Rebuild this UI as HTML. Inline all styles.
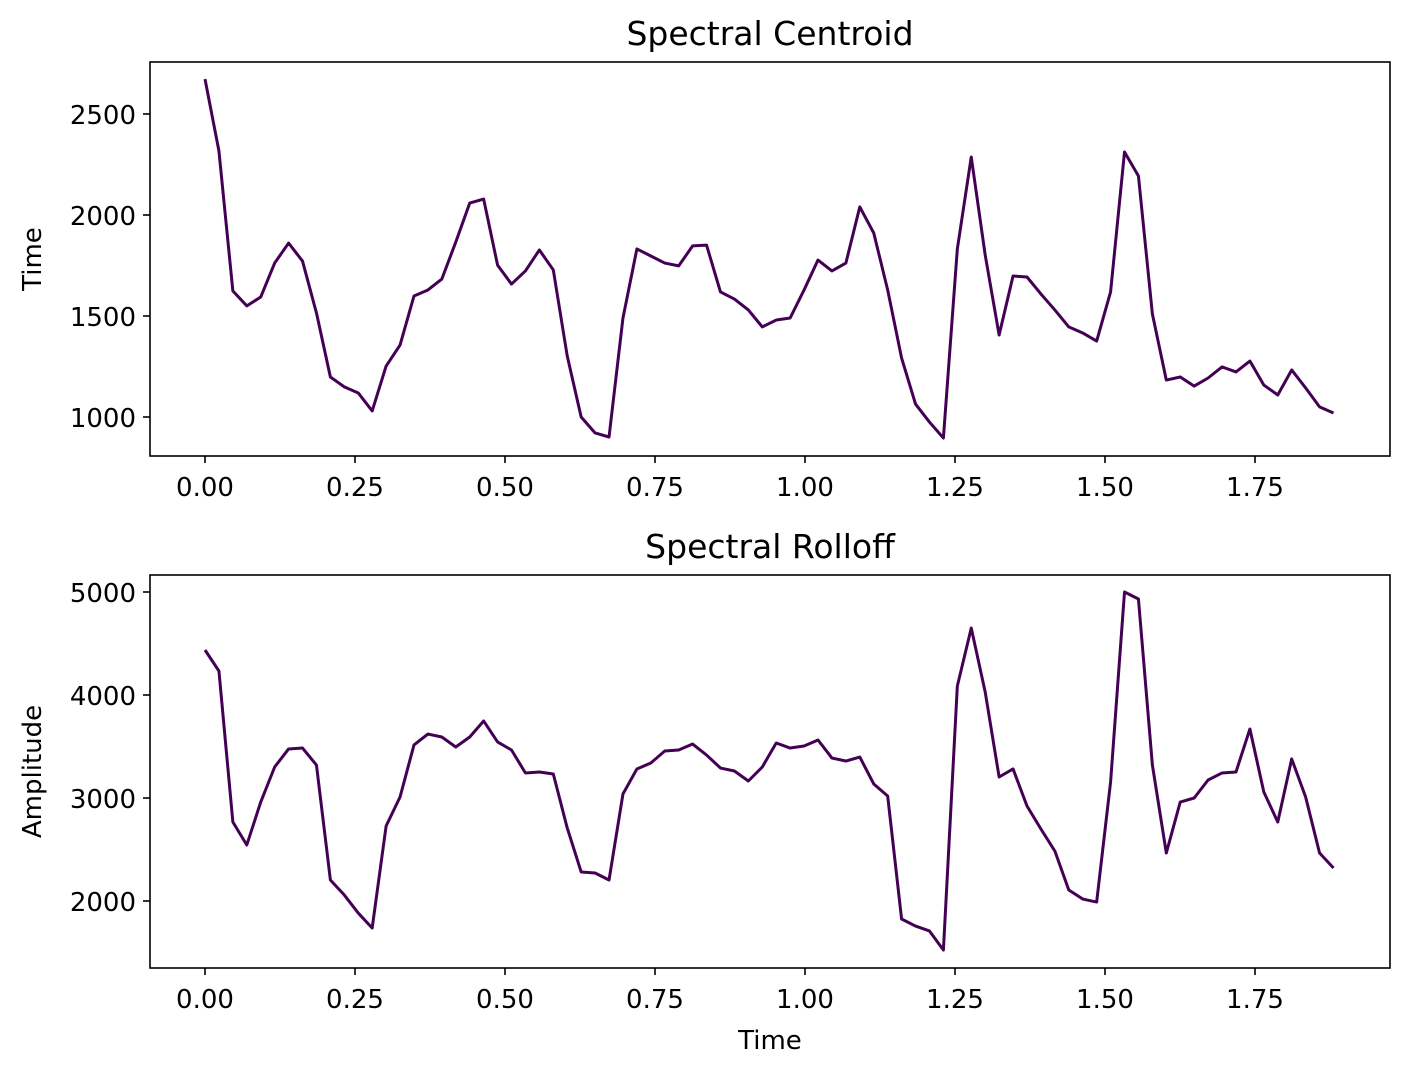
<!DOCTYPE html>
<html><head><meta charset="utf-8">
<style>
body{margin:0;background:#fff;}
svg{display:block;font-family:"DejaVu Sans","Liberation Sans",sans-serif;}
</style></head>
<body>
<svg id="chart" width="1409" height="1075" viewBox="0 0 1409 1075"></svg>
<script>
const centroidValues=[2673,2317,1624,1550,1594,1762,1861,1772,1515,1198,1149,1119,1030,1252,1356,1599,1629,1683,1866,2059,2079,1752,1658,1723,1827,1728,1302,1000,921,901,1490,1832,1797,1762,1748,1847,1851,1619,1584,1530,1446,1480,1490,1629,1777,1723,1762,2040,1911,1629,1292,1064,975,896,1832,2287,1802,1406,1698,1693,1609,1530,1446,1416,1376,1619,2312,2193,1510,1183,1198,1153,1193,1248,1223,1277,1158,1109,1233,1144,1050,1020];
const rolloffValues=[4437,4233,2767,2544,2961,3301,3476,3485,3320,2204,2058,1883,1738,2728,3010,3515,3621,3592,3495,3592,3748,3544,3466,3243,3252,3233,2709,2282,2272,2204,3039,3282,3340,3456,3466,3524,3417,3291,3262,3165,3301,3534,3485,3505,3563,3388,3359,3398,3136,3019,1825,1757,1709,1524,4087,4650,4029,3204,3282,2922,2699,2485,2107,2019,1990,3155,5000,4932,3320,2466,2961,3000,3175,3243,3252,3670,3058,2767,3379,3010,2466,2320];
const timeStep=0.02322;
const times=centroidValues.map((v,i)=>i*timeStep);
const xTicks=[0,0.25,0.5,0.75,1.0,1.25,1.5,1.75];
const xTickLabels=["0.00","0.25","0.50","0.75","1.00","1.25","1.50","1.75"];
const centroidTicks=[1000,1500,2000,2500];
const rolloffTicks=[2000,3000,4000,5000];

const NS="http://www.w3.org/2000/svg";
const svg=document.getElementById('chart');
function mk(tag,attrs,parent){const e=document.createElementNS(NS,tag);for(const k in attrs)e.setAttribute(k,attrs[k]);(parent||svg).appendChild(e);return e;}
function xScale(t){return 205+t*600;}

function panel(cfg){
  const g=mk('g',{});
  
  
  const L=150,R=1390,T=cfg.top,B=cfg.bottom;
  const yScale=v=>cfg.y0px+(v-cfg.v0)*(cfg.y1px-cfg.y0px)/(cfg.v1-cfg.v0);
  const d=cfg.values.map((v,i)=>(i?'L':'M')+xScale(times[i]).toFixed(2)+' '+yScale(v).toFixed(2)).join(' ');
  const p=mk('path',{d:d,fill:'none',stroke:'#440154','stroke-width':3,'stroke-linejoin':'round'},g);
  
  
  const fr=mk('rect',{x:L,y:T,width:R-L,height:B-T,fill:'none',stroke:'#000','stroke-width':1.6},g);
  
  
  xTicks.forEach((t,i)=>{
    const x=xScale(t);
    mk('line',{x1:x,x2:x,y1:B,y2:B+7,stroke:'#000','stroke-width':1.6},g);
    const tx=mk('text',{x:x,y:B+40,'font-size':26,'text-anchor':'middle',fill:'#000'},g);
    tx.textContent=xTickLabels[i];
    
    
  });
  cfg.ticks.forEach(v=>{
    const y=yScale(v);
    mk('line',{x1:L-7,x2:L,y1:y,y2:y,stroke:'#000','stroke-width':1.6},g);
    const tx=mk('text',{x:L-14,y:y+10,'font-size':26,'text-anchor':'end',fill:'#000'},g);
    tx.textContent=String(v);
    
    
  });
  const ti=mk('text',{x:(L+R)/2,y:T-17,'font-size':33,'text-anchor':'middle',fill:'#000'},g);
  ti.textContent=cfg.title;
  
  
  const yc=(T+B)/2;
  const yl=mk('text',{x:33,y:yc,'font-size':26,'text-anchor':'middle','dominant-baseline':'central',fill:'#000',transform:'rotate(-90 33 '+yc+')'},g);
  yl.textContent=cfg.ylabel;
  
  
}
panel({name:'spectral-centroid-chart',title:'Spectral Centroid',ylabel:'Time',top:62,bottom:456,values:centroidValues,ticks:centroidTicks,v0:1000,y0px:417,v1:2500,y1px:114});
panel({name:'spectral-rolloff-chart',title:'Spectral Rolloff',ylabel:'Amplitude',top:575,bottom:968,values:rolloffValues,ticks:rolloffTicks,v0:2000,y0px:901,v1:5000,y1px:592});
const xl=mk('text',{x:770,y:1049,'font-size':26,'text-anchor':'middle',fill:'#000'});
xl.textContent='Time';


</script>
</body></html>
